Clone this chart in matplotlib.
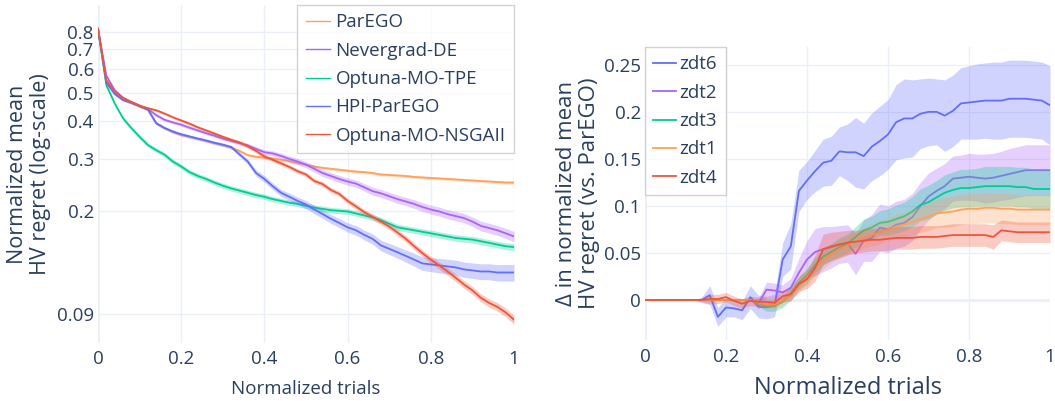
"""HV regret comparison: absolute (log) on the left, delta vs ParEGO on the right."""

import numpy as np
import matplotlib.pyplot as plt
from matplotlib.ticker import NullLocator

plt.rcParams["font.family"] = ["Open Sans", "DejaVu Sans"]

FONT_COLOR = "#2a3f5f"
GRID_COLOR = "#ebf0f8"

# normalized trials, 0 .. 1 in steps of 0.02
trials = np.round(np.arange(51) * 0.02, 2)

# ---- left panel: normalized mean HV regret ----
methods = ["ParEGO", "Nevergrad-DE", "Optuna-MO-TPE", "HPI-ParEGO", "Optuna-MO-NSGAII"]
method_colors = ["#FFA15A", "#AB63FA", "#00CC96", "#636EFA", "#EF553B"]

parego = [0.82, 0.55, 0.50, 0.475, 0.462, 0.45, 0.44, 0.395, 0.38, 0.368,
          0.36, 0.355, 0.35, 0.344, 0.338, 0.333, 0.327, 0.318, 0.308, 0.304,
          0.302, 0.30, 0.297, 0.294, 0.29, 0.286, 0.282, 0.279, 0.277, 0.275,
          0.273, 0.271, 0.27, 0.268, 0.265, 0.264, 0.263, 0.262, 0.26, 0.259,
          0.258, 0.257, 0.256, 0.255, 0.254, 0.253, 0.252, 0.251, 0.25, 0.249,
          0.249]
nevergrad = [0.82, 0.57, 0.51, 0.48, 0.465, 0.452, 0.44, 0.42, 0.405, 0.397,
             0.39, 0.381, 0.373, 0.365, 0.358, 0.35, 0.344, 0.338, 0.332, 0.323,
             0.315, 0.312, 0.306, 0.299, 0.293, 0.286, 0.277, 0.268, 0.262, 0.256,
             0.251, 0.247, 0.24, 0.233, 0.229, 0.224, 0.219, 0.215, 0.211, 0.206,
             0.202, 0.199, 0.195, 0.192, 0.189, 0.184, 0.178, 0.175, 0.172, 0.168,
             0.164]
tpe = [0.82, 0.53, 0.46, 0.41, 0.38, 0.355, 0.333, 0.32, 0.309, 0.293,
       0.282, 0.27, 0.262, 0.256, 0.249, 0.243, 0.238, 0.234, 0.23, 0.226,
       0.223, 0.219, 0.216, 0.213, 0.211, 0.208, 0.205, 0.203, 0.201, 0.2,
       0.199, 0.196, 0.193, 0.19, 0.186, 0.181, 0.176, 0.174, 0.172, 0.17,
       0.168, 0.166, 0.164, 0.162, 0.161, 0.16, 0.158, 0.156, 0.154, 0.152,
       0.151]
hpi_parego = [0.82, 0.54, 0.495, 0.472, 0.462, 0.45, 0.438, 0.394, 0.38, 0.37,
              0.362, 0.356, 0.35, 0.345, 0.339, 0.334, 0.328, 0.31, 0.293, 0.268,
              0.256, 0.242, 0.23, 0.223, 0.216, 0.21, 0.202, 0.195, 0.188, 0.182,
              0.176, 0.172, 0.166, 0.161, 0.153, 0.149, 0.145, 0.141, 0.137, 0.133,
              0.132, 0.131, 0.13, 0.129, 0.127, 0.126, 0.125, 0.125, 0.124, 0.124,
              0.124]
nsgaii = [0.82, 0.55, 0.505, 0.48, 0.465, 0.452, 0.443, 0.436, 0.425, 0.413,
          0.403, 0.393, 0.382, 0.373, 0.364, 0.355, 0.347, 0.34, 0.33, 0.318,
          0.305, 0.297, 0.289, 0.281, 0.272, 0.265, 0.252, 0.246, 0.235, 0.228,
          0.216, 0.207, 0.198, 0.191, 0.184, 0.177, 0.169, 0.161, 0.152, 0.144,
          0.137, 0.131, 0.125, 0.119, 0.113, 0.108, 0.102, 0.098, 0.095, 0.091,
          0.086]

# relative half-width of the shaded band around each mean
parego_err = [0.0] + [0.012] * 50
nevergrad_err = [0.0, 0.01, 0.01, 0.01, 0.01, 0.01, 0.01, 0.012, 0.012, 0.012,
                 0.012, 0.012, 0.012, 0.012, 0.012, 0.014, 0.014, 0.015, 0.016, 0.018,
                 0.02, 0.02, 0.022, 0.022, 0.024, 0.024, 0.025, 0.026, 0.026, 0.027,
                 0.028, 0.028, 0.029, 0.03, 0.03, 0.031, 0.032, 0.032, 0.033, 0.034,
                 0.034, 0.035, 0.035, 0.036, 0.036, 0.037, 0.037, 0.038, 0.038, 0.039,
                 0.04]
tpe_err = [0.0, 0.01, 0.012, 0.014, 0.015, 0.016, 0.017, 0.018, 0.018, 0.019,
           0.019, 0.02, 0.02, 0.02, 0.021, 0.021, 0.021, 0.021, 0.021, 0.021,
           0.021, 0.021, 0.021, 0.021, 0.021, 0.022, 0.022, 0.022, 0.022, 0.022,
           0.022, 0.022, 0.023, 0.023, 0.023, 0.023, 0.024, 0.024, 0.024, 0.024,
           0.025, 0.025, 0.025, 0.025, 0.025, 0.026, 0.026, 0.026, 0.026, 0.027,
           0.027]
hpi_err = [0.0, 0.01, 0.01, 0.01, 0.01, 0.01, 0.01, 0.012, 0.012, 0.012,
           0.012, 0.012, 0.012, 0.012, 0.013, 0.013, 0.014, 0.016, 0.02, 0.024,
           0.026, 0.026, 0.027, 0.028, 0.03, 0.031, 0.032, 0.033, 0.034, 0.035,
           0.036, 0.037, 0.038, 0.04, 0.041, 0.043, 0.045, 0.047, 0.05, 0.052,
           0.054, 0.056, 0.057, 0.058, 0.059, 0.06, 0.061, 0.062, 0.063, 0.064,
           0.065]
nsgaii_err = [0.0, 0.01, 0.01, 0.01, 0.01, 0.01, 0.01, 0.01, 0.011, 0.011,
              0.012, 0.012, 0.012, 0.013, 0.013, 0.013, 0.014, 0.014, 0.015, 0.015,
              0.016, 0.016, 0.017, 0.017, 0.018, 0.018, 0.019, 0.019, 0.02, 0.02,
              0.021, 0.022, 0.022, 0.023, 0.024, 0.024, 0.025, 0.026, 0.026, 0.027,
              0.028, 0.028, 0.029, 0.03, 0.03, 0.031, 0.032, 0.032, 0.033, 0.034,
              0.035]

# ---- right panel: delta in normalized mean HV regret vs ParEGO ----
problems = ["zdt6", "zdt2", "zdt3", "zdt1", "zdt4"]
problem_colors = ["#636EFA", "#AB63FA", "#00CC96", "#FFA15A", "#EF553B"]

zdt6 = [0, 0, 0, 0, 0, 0, 0, 0.0, 0.005, -0.018,
        -0.008, -0.009, -0.011, 0.003, -0.007, -0.008, -0.006, 0.043, 0.057, 0.116,
        0.127, 0.137, 0.146, 0.148, 0.158, 0.157, 0.157, 0.153, 0.163, 0.169,
        0.176, 0.189, 0.193, 0.193, 0.198, 0.2, 0.2, 0.196, 0.201, 0.209,
        0.21, 0.211, 0.212, 0.212, 0.212, 0.214, 0.214, 0.214, 0.213, 0.212,
        0.207]
zdt2 = [0, 0, 0, 0, 0, 0, 0, 0, 0, 0,
        0, 0, 0, 0, -0.004, 0.011, 0.01, 0.008, 0.013, 0.029,
        0.043, 0.051, 0.054, 0.056, 0.059, 0.06, 0.049, 0.063, 0.066, 0.077,
        0.075, 0.08, 0.082, 0.088, 0.1, 0.11, 0.116, 0.121, 0.129, 0.13,
        0.131, 0.13, 0.129, 0.13, 0.132, 0.134, 0.136, 0.138, 0.138, 0.138,
        0.138]
zdt3 = [0, 0, 0, 0, 0, 0, 0, 0, 0, 0,
        0, 0, 0, 0, -0.003, -0.007, -0.006, -0.002, 0.007, 0.018,
        0.026, 0.037, 0.046, 0.051, 0.056, 0.06, 0.067, 0.074, 0.077, 0.082,
        0.083, 0.086, 0.089, 0.094, 0.101, 0.104, 0.109, 0.114, 0.117, 0.119,
        0.119, 0.12, 0.121, 0.121, 0.121, 0.121, 0.12, 0.12, 0.118, 0.118,
        0.118]
zdt1 = [0, 0, 0, 0, 0, 0, 0, 0, 0, 0,
        0, 0, 0, 0, -0.003, -0.005, -0.005, -0.001, 0.006, 0.016,
        0.024, 0.034, 0.042, 0.049, 0.054, 0.058, 0.062, 0.066, 0.069, 0.072,
        0.075, 0.078, 0.08, 0.083, 0.086, 0.089, 0.092, 0.093, 0.094, 0.096,
        0.097, 0.097, 0.098, 0.098, 0.097, 0.097, 0.096, 0.096, 0.096, 0.096,
        0.096]
zdt4 = [0, 0, 0, 0, 0, 0, 0, 0.0, 0.001, 0.001,
        0.003, -0.001, -0.004, -0.001, -0.002, -0.002, -0.003, 0.004, 0.006, 0.017,
        0.022, 0.034, 0.054, 0.057, 0.059, 0.061, 0.062, 0.063, 0.064, 0.064,
        0.065, 0.066, 0.066, 0.066, 0.067, 0.067, 0.067, 0.068, 0.069, 0.069,
        0.069, 0.069, 0.069, 0.067, 0.074, 0.073, 0.072, 0.072, 0.072, 0.072,
        0.072]

# half-width of the shaded band (absolute)
zdt6_err = [0, 0, 0, 0, 0, 0, 0, 0.003, 0.01, 0.01,
            0.01, 0.009, 0.01, 0.012, 0.012, 0.012, 0.012, 0.018, 0.024, 0.022,
            0.02, 0.022, 0.025, 0.026, 0.026, 0.03, 0.037, 0.035, 0.036, 0.037,
            0.037, 0.04, 0.042, 0.041, 0.037, 0.036, 0.035, 0.038, 0.038, 0.038,
            0.039, 0.04, 0.04, 0.041, 0.041, 0.041, 0.041, 0.041, 0.041, 0.041,
            0.042]
zdt2_err = [0, 0, 0, 0, 0, 0, 0, 0, 0, 0,
            0, 0, 0, 0, 0.006, 0.008, 0.008, 0.008, 0.01, 0.015,
            0.02, 0.025, 0.024, 0.022, 0.02, 0.02, 0.022, 0.022, 0.025, 0.025,
            0.025, 0.025, 0.025, 0.025, 0.025, 0.025, 0.024, 0.024, 0.024, 0.024,
            0.025, 0.025, 0.026, 0.026, 0.026, 0.027, 0.027, 0.027, 0.027, 0.027,
            0.027]
zdt3_err = [0, 0, 0, 0, 0, 0, 0, 0, 0, 0,
            0, 0, 0, 0, 0.004, 0.005, 0.006, 0.006, 0.007, 0.007,
            0.008, 0.008, 0.009, 0.009, 0.01, 0.01, 0.011, 0.012, 0.012, 0.013,
            0.014, 0.015, 0.015, 0.016, 0.017, 0.018, 0.018, 0.019, 0.019, 0.02,
            0.02, 0.02, 0.021, 0.021, 0.021, 0.021, 0.021, 0.021, 0.021, 0.021,
            0.021]
zdt1_err = [0, 0, 0, 0, 0, 0, 0, 0, 0, 0,
            0, 0, 0, 0, 0.003, 0.004, 0.005, 0.005, 0.006, 0.007,
            0.008, 0.008, 0.009, 0.009, 0.01, 0.01, 0.011, 0.011, 0.012, 0.012,
            0.012, 0.013, 0.013, 0.014, 0.014, 0.015, 0.015, 0.016, 0.016, 0.016,
            0.016, 0.016, 0.016, 0.016, 0.016, 0.016, 0.016, 0.016, 0.016, 0.016,
            0.016]
zdt4_err = [0, 0, 0, 0, 0, 0, 0, 0.002, 0.005, 0.005,
            0.005, 0.005, 0.005, 0.005, 0.005, 0.005, 0.005, 0.006, 0.007, 0.008,
            0.01, 0.014, 0.016, 0.015, 0.014, 0.013, 0.012, 0.012, 0.012, 0.012,
            0.012, 0.012, 0.012, 0.012, 0.012, 0.012, 0.012, 0.012, 0.012, 0.012,
            0.012, 0.012, 0.012, 0.013, 0.011, 0.011, 0.011, 0.011, 0.011, 0.011,
            0.011]


def style_axes(ax, tick_size):
    for s in ax.spines.values():
        s.set_visible(False)
    ax.grid(True, color=GRID_COLOR, linewidth=1)
    ax.set_axisbelow(True)
    ax.tick_params(length=0, labelsize=tick_size, labelcolor=FONT_COLOR)


def style_legend(leg, lw):
    leg.get_frame().set_edgecolor("#c8c8c8")
    leg.get_frame().set_linewidth(1)
    leg.set_zorder(20)
    for t in leg.get_texts():
        t.set_color(FONT_COLOR)
    for h in leg.get_lines():
        h.set_linewidth(lw)


W, H = 1055, 401
fig = plt.figure(figsize=(W / 100, H / 100), dpi=100)

# ---------------- left ----------------
ax1 = fig.add_axes([98 / W, 1 - 343 / H, 416 / W, 338 / H])
style_axes(ax1, 13.5)
ax1.set_yscale("log")
ax1.axvline(0, color=GRID_COLOR, linewidth=2, zorder=0.5)

left_means = [parego, nevergrad, tpe, hpi_parego, nsgaii]
left_errs = [parego_err, nevergrad_err, tpe_err, hpi_err, nsgaii_err]
for i, (name, col, m, e) in enumerate(zip(methods, method_colors, left_means, left_errs)):
    m = np.array(m)
    e = np.array(e)
    ax1.fill_between(trials, m * (1 - e), m * (1 + e), color=col, alpha=0.3,
                     linewidth=0, zorder=2 + i)
    ax1.plot(trials, m, color=col, linewidth=1.3, label=name, zorder=2.5 + i)

ax1.set_xlim(0, 1)
ax1.set_ylim(0.0718, 0.986)
ax1.set_xticks([0, 0.2, 0.4, 0.6, 0.8, 1])
ax1.set_xticklabels(["0", "0.2", "0.4", "0.6", "0.8", "1"])
yt = [0.09, 0.2, 0.3, 0.4, 0.5, 0.6, 0.7, 0.8]
ax1.set_yticks(yt)
ax1.set_yticklabels([str(v) for v in yt])
ax1.yaxis.set_minor_locator(NullLocator())
ax1.tick_params(axis="x", pad=5)
ax1.tick_params(axis="y", pad=3)
ax1.set_xlabel("Normalized trials", fontsize=13.5, color=FONT_COLOR, labelpad=9)
ax1.set_ylabel("Normalized mean\nHV regret (log-scale)", fontsize=15.5,
               color=FONT_COLOR, linespacing=1.12)
ax1.yaxis.set_label_coords(-0.112, 0.5)

leg1 = ax1.legend(loc="upper right", bbox_to_anchor=(514 / W, 1 - 5 / H),
                  bbox_transform=fig.transFigure, fontsize=13.5, frameon=True,
                  fancybox=False, handlelength=1.3, handletextpad=0.3,
                  labelspacing=0.55, borderpad=0.45, borderaxespad=0)
style_legend(leg1, 1)

# ---------------- right ----------------
ax2 = fig.add_axes([645 / W, 1 - 340 / H, 405 / W, 293 / H])
style_axes(ax2, 13.5)
ax2.axvline(0, color=GRID_COLOR, linewidth=2, zorder=0.5)
ax2.axhline(0, color=GRID_COLOR, linewidth=2, zorder=0.5)

right_means = [zdt6, zdt2, zdt3, zdt1, zdt4]
right_errs = [zdt6_err, zdt2_err, zdt3_err, zdt1_err, zdt4_err]
for i, (name, col, m, e) in enumerate(zip(problems, problem_colors, right_means, right_errs)):
    m = np.array(m)
    e = np.array(e)
    ax2.fill_between(trials, m - e, m + e, color=col, alpha=0.3,
                     linewidth=0, zorder=2 + i)
    ax2.plot(trials, m, color=col, linewidth=1.3, label=name, zorder=2.5 + i)

ax2.set_xlim(0, 1)
ax2.set_ylim(-0.0426, 0.269)
ax2.set_xticks([0, 0.2, 0.4, 0.6, 0.8, 1])
ax2.set_xticklabels(["0", "0.2", "0.4", "0.6", "0.8", "1"])
ax2.set_yticks([0, 0.05, 0.1, 0.15, 0.2, 0.25])
ax2.set_yticklabels(["0", "0.05", "0.1", "0.15", "0.2", "0.25"])
ax2.tick_params(axis="x", pad=6)
ax2.tick_params(axis="y", pad=3)
ax2.set_xlabel("Normalized trials", fontsize=17, color=FONT_COLOR, labelpad=7)
ax2.set_ylabel("Δ in normalized mean\nHV regret (vs. ParEGO)", fontsize=16,
               color=FONT_COLOR, labelpad=3, linespacing=1.1)

leg2 = ax2.legend(loc="upper left", bbox_to_anchor=(645 / W, 1 - 47 / H),
                  bbox_transform=fig.transFigure, fontsize=13.5, frameon=True,
                  fancybox=False, handlelength=1.2, handletextpad=0.2,
                  labelspacing=0.55, borderpad=0.45, borderaxespad=0)
style_legend(leg2, 1.3)

fig.savefig("out.png", dpi=100, facecolor="white")
